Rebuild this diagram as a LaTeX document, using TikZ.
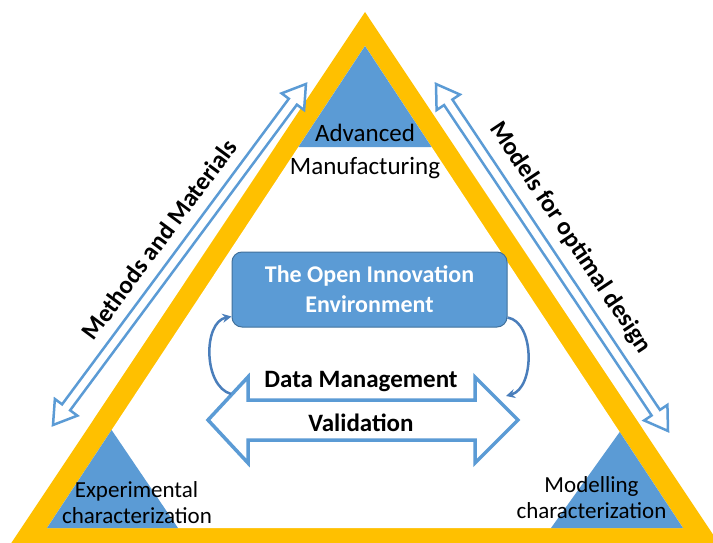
\documentclass[tikz,border=0pt]{standalone}
\usepackage{fontspec}
\setmainfont{Carlito}
\usetikzlibrary{arrows.meta}
\definecolor{gold}{HTML}{FFC000}
\definecolor{bfill}{HTML}{5B9BD5}
\definecolor{bdark}{HTML}{41719C}
\definecolor{bcurve}{HTML}{4A7EBB}
\begin{document}
\begin{tikzpicture}[x=1pt,y=-1pt,
  lbl/.style={inner sep=0pt, anchor=base, text=black, font=\fontsize{23}{27}\selectfont},
  toplbl/.style={inner sep=0pt, anchor=base, text=black, font=\fontsize{25}{30}\selectfont},
  midlbl/.style={inner sep=0pt, anchor=base, text=black, font=\fontsize{25}{30}\selectfont\bfseries},
  sidelbl/.style={inner sep=0pt, text=black, font=\fontsize{25}{30}\selectfont\bfseries, text height=15pt, text depth=0pt},
  outarrow/.style={draw=bfill, fill=white, line width=2.5pt, line join=miter},
  bigarrow/.style={draw=bfill, fill=white, line width=3.5pt, line join=miter},
  curv/.style={draw=bcurve, line width=2.5pt, -{Stealth[length=9pt,width=9pt]}},
  corner/.style={fill=bfill},
  centrebox/.style={fill=bfill, draw=bdark, line width=1pt, rounded corners=10pt,
    minimum width=275pt, minimum height=75pt, text=white, align=center,
    font=\fontsize{24}{30}\selectfont\bfseries, inner sep=0pt}]
\useasboundingbox (0,0) rectangle (713,543);
\clip (0,0) rectangle (713,543);
% frame
\fill[gold] (365,12) -- (730,560) -- (0,560) -- cycle;
\fill[white] (365,46) -- (683,528) -- (47,528) -- cycle;
% corner triangles
\fill[corner] (365,46) -- (431.6,147) -- (298.4,147) -- cycle;
\fill[corner] (47,528) -- (111.6,430) -- (178,528) -- cycle;
\fill[corner] (683,528) -- (619.7,432) -- (551,528) -- cycle;
% corner labels
\node[toplbl] (adv1) at (365,142) {Advanced};
\node[toplbl] (adv2) at (365,175) {Manufacturing};
\node[lbl] (exp1) at (136.5,497) {Experimental};
\node[lbl] (exp2) at (137,523) {characterization};
\node[lbl] (mod1) at (591.5,492) {Modelling};
\node[lbl] (mod2) at (591.5,518) {characterization};
% diagonal double arrows
\coordinate (mmA) at (53,425);
\coordinate (mmB) at (306,84);
\coordinate (moA) at (436,84);
\coordinate (moB) at (668,431);
\begin{scope}[shift={(mmA)}, rotate=53.43]
  \path[outarrow] (0,0) -- (22,14) -- (22,5) -- (402.6,5) -- (402.6,14) -- (424.6,0)
    -- (402.6,-14) -- (402.6,-5) -- (22,-5) -- (22,-14) -- cycle;
\end{scope}
\begin{scope}[shift={(moA)}, rotate=-56.23]
  \path[outarrow] (0,0) -- (22,14) -- (22,5) -- (395.4,5) -- (395.4,14) -- (417.4,0)
    -- (395.4,-14) -- (395.4,-5) -- (22,-5) -- (22,-14) -- cycle;
\end{scope}
\path (mmA) -- (mmB) node[sidelbl, pos=0.5, sloped, above=16.5pt] (mmtxt) {Methods and Materials};
\path (moA) -- (moB) node[sidelbl, pos=0.485, sloped, above=19.5pt] (motxt) {Models for optimal design};
% centre box
\node[centrebox] (oie) at (369.5,289.5) {The Open Innovation\\Environment};
% horizontal double arrow
\path[bigarrow] (208,420) -- (248,377) -- (248,400) -- (475,400) -- (475,377) -- (518,420)
  -- (475,463) -- (475,440) -- (248,440) -- (248,463) -- cycle;
\node[midlbl] (dm) at (361,387) {Data Management};
\node[midlbl] (val) at (361,431) {Validation};
\coordinate (dmL) at (231,394);
\coordinate (dmR) at (506,396);
% curved arrows
\draw[curv] (dmL) .. controls (203,386) and (203,322) .. ([yshift=11pt]oie.south west);
\draw[curv] ([yshift=10pt]oie.south east) .. controls (535,322) and (535,388) .. (dmR);
\end{tikzpicture}
\end{document}
